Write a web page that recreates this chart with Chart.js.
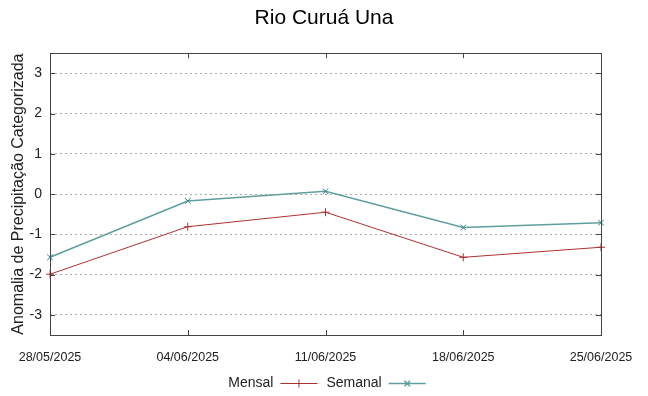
<!DOCTYPE html>
<html>
<head>
<meta charset="utf-8">
<script src="https://cdn.jsdelivr.net/npm/chart.js@4"></script>
<style>
  body { margin: 0; background: #fff; }
  canvas { display: block; }
</style>
</head>
<body>
<canvas id="chart" width="648" height="396"></canvas>
<script>
const dates = ['28/05/2025', '04/06/2025', '11/06/2025', '18/06/2025', '25/06/2025'];
const mensal = [-1.99, -0.81, -0.45, -1.57, -1.32];
const semanal = [-1.57, -0.17, 0.07, -0.83, -0.71];
const yTicks = [-3, -2, -1, 0, 1, 2, 3];

const FONT = "'Liberation Sans', Arial, sans-serif";

// frame + inward tick marks, gnuplot style
const framePlugin = {
    id: 'frame',
    afterDraw(chart) {
        const {ctx, chartArea: a, scales} = chart;
        ctx.save();
        ctx.strokeStyle = '#444';
        ctx.lineWidth = 1;
        ctx.beginPath();
        yTicks.forEach(v => {
            const y = Math.round(scales.y.getPixelForValue(v)) + 0.5;
            ctx.moveTo(a.left, y); ctx.lineTo(a.left + 5, y);
            ctx.moveTo(a.right - 5, y); ctx.lineTo(a.right, y);
        });
        dates.forEach((d, i) => {
            const x = Math.round(scales.x.getPixelForValue(i)) + 0.5;
            ctx.moveTo(x, a.bottom); ctx.lineTo(x, a.bottom - 5);
            ctx.moveTo(x, a.top); ctx.lineTo(x, a.top + 5);
        });
        ctx.stroke();
        ctx.strokeRect(Math.round(a.left) + 0.5, Math.round(a.top) + 0.5,
            Math.round(a.right - a.left), Math.round(a.bottom - a.top));
        ctx.restore();
    }
};

// legend: label text first, then line sample with marker
const legendPlugin = {
    id: 'sideLegend',
    afterDraw(chart) {
        const ctx = chart.ctx;
        const sets = chart.data.datasets;
        const lineLen = 37, gap = 7, itemGap = 9;
        ctx.save();
        ctx.font = '14px ' + FONT;
        const widths = sets.map(s => ctx.measureText(s.label).width);
        const total = widths.reduce((t, w) => t + w + gap + lineLen, 0) + itemGap * (sets.length - 1);
        let x = 327 - total / 2;
        const y = 383;
        sets.forEach((s, i) => {
            ctx.fillStyle = '#222';
            ctx.textAlign = 'left';
            ctx.textBaseline = 'middle';
            ctx.fillText(s.label, x, y);
            x += widths[i] + gap;
            ctx.strokeStyle = s.borderColor;
            ctx.lineWidth = s.borderWidth;
            ctx.beginPath();
            ctx.moveTo(x, y + 0.5); ctx.lineTo(x + lineLen, y + 0.5);
            ctx.stroke();
            Chart.helpers.drawPoint(ctx, {
                pointStyle: s.pointStyle, radius: s.pointRadius, borderWidth: 1
            }, x + lineLen / 2, y + 0.5);
            x += lineLen + itemGap;
        });
        ctx.restore();
    }
};

new Chart(document.getElementById('chart'), {
    type: 'line',
    data: {
        labels: dates,
        datasets: [
            {
                label: 'Mensal',
                data: mensal,
                borderColor: '#b03030',
                backgroundColor: '#b03030',
                borderWidth: 1,
                pointStyle: 'cross',
                pointRadius: 4,
                pointBorderWidth: 1,
                tension: 0,
                clip: false
            },
            {
                label: 'Semanal',
                data: semanal,
                borderColor: '#5f9e9e',
                backgroundColor: '#2f7f7f',
                pointBorderColor: '#2f7f7f',
                borderWidth: 1.5,
                pointStyle: 'crossRot',
                pointRadius: 4,
                pointBorderWidth: 1,
                tension: 0,
                clip: false
            }
        ]
    },
    options: {
        responsive: false,
        animation: false,
        layout: { padding: 0 },
        plugins: {
            legend: { display: false },
            tooltip: { enabled: false },
            title: {
                display: true,
                text: 'Rio Curuá Una',
                color: '#000',
                font: { family: FONT, size: 21, weight: 'normal' },
                padding: { top: 6, bottom: 22 }
            }
        },
        scales: {
            x: {
                type: 'category',
                offset: false,
                grid: { display: false, drawTicks: false },
                border: { display: false },
                ticks: {
                    color: '#222',
                    font: { family: FONT, size: 12.5 },
                    padding: 15,
                    maxRotation: 0,
                    autoSkip: false
                },
                afterFit: s => { s.height = 61; }
            },
            y: {
                min: -3.5,
                max: 3.5,
                grid: { color: '#aaaaaa', lineWidth: 1, drawTicks: false },
                border: { display: false, dash: [2, 3] },
                ticks: {
                    color: '#222',
                    font: { family: FONT, size: 14 },
                    padding: 8,
                    stepSize: 1
                },
                afterBuildTicks: s => { s.ticks = yTicks.map(v => ({ value: v })); },
                title: {
                    display: true,
                    text: 'Anomalia de Precipitação Categorizada',
                    color: '#222',
                    font: { family: FONT, size: 16 },
                    padding: { top: 9, bottom: 0 }
                },
                afterFit: s => { s.width = 50; }
            },
            // empty right-hand strip so the plot ends where the reference's does
            yRight: {
                position: 'right',
                display: true,
                min: -3.5,
                max: 3.5,
                grid: { display: false, drawTicks: false },
                border: { display: false },
                ticks: { display: false },
                afterFit: s => { s.width = 47; }
            }
        }
    },
    plugins: [framePlugin, legendPlugin]
});
</script>
</body>
</html>
